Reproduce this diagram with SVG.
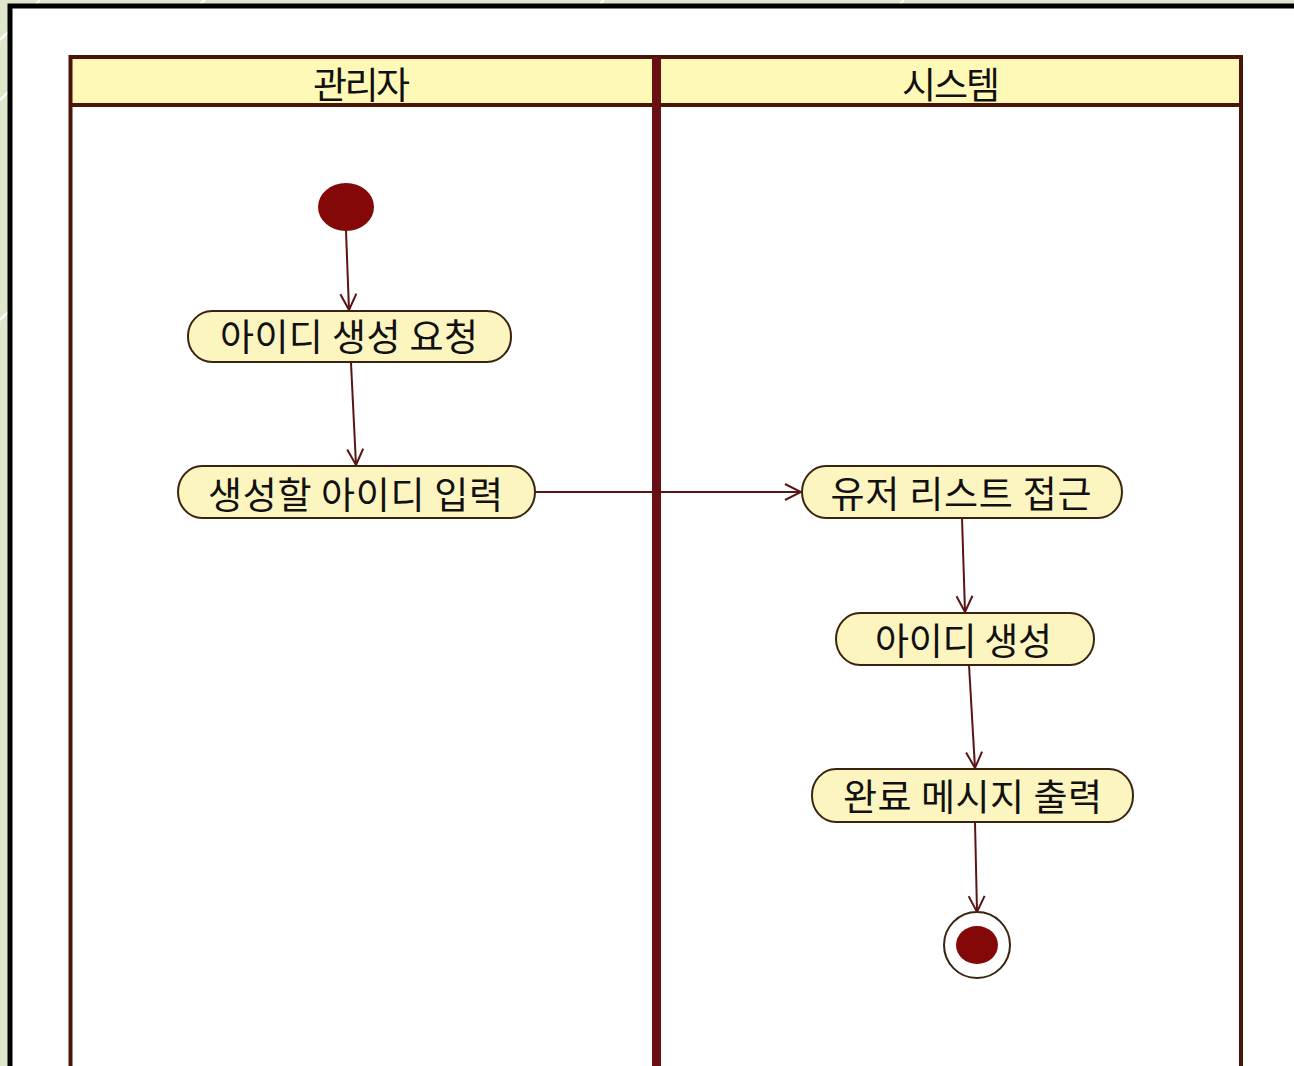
<svg xmlns="http://www.w3.org/2000/svg" width="1294" height="1066" viewBox="0 0 1294 1066">
<defs>
<style>
.lab{font-family:"Noto Sans CJK KR","Liberation Sans",sans-serif;font-size:37px;fill:#111;text-anchor:middle;dominant-baseline:central}
.act{fill:#fdf5c0;stroke:#3a2410;stroke-width:2}
.con{stroke:#5a1414;stroke-width:2;fill:none;marker-end:url(#arr)}
.lane{fill:none;stroke:#4a1508;stroke-width:4}
</style>
<marker id="arr" viewBox="0 0 18 18" refX="17" refY="9" markerWidth="18" markerHeight="18" markerUnits="userSpaceOnUse" orient="auto">
<path d="M1,1 L17,9 L1,17" fill="none" stroke="#5a1414" stroke-width="2"/>
</marker>
</defs>
<g id="background">
<rect x="0" y="0" width="1294" height="1066" fill="#dfe7cb"/>
<path d="M0,40 L40,0 M0,100 L30,70 M0,320 L25,295 M200,4 L205,0 M600,4 L604,0 M900,4 L904,0" stroke="#fff" stroke-width="2"/>
<rect x="10" y="6" width="1300" height="1100" fill="#fff" stroke="#000" stroke-width="5"/>
</g>
<g id="swimlanes">
<rect x="70.5" y="57" width="1170.5" height="48" fill="#fff9b8"/>
<path class="lane" d="M70.5,1070 V57 H1241 V1070 M70.5,105 H1241"/>
<rect x="652" y="57" width="9" height="1013" fill="#6a0f14"/>
<text class="lab" x="361.5" y="82.5" textLength="97" lengthAdjust="spacing">관리자</text>
<text class="lab" x="951" y="82.5" textLength="98" lengthAdjust="spacing">시스템</text>
</g>
<g id="connectors">
<path class="con" d="M346,231 L349,310"/>
<path class="con" d="M351,363 L356,465"/>
<path class="con" d="M535,492 L801,492"/>
<path class="con" d="M962,518 L965,612"/>
<path class="con" d="M969,665 L975,768"/>
<path class="con" d="M975,822 L977,912"/>
</g>
<g id="start">
<ellipse cx="346" cy="207" rx="28" ry="24" fill="#850808"/>
</g>
<g id="a1">
<rect class="act" x="188" y="311" width="323" height="51" rx="24" ry="25"/>
<text class="lab" x="349" y="335" textLength="258" lengthAdjust="spacing">아이디 생성 요청</text>
</g>
<g id="a2">
<rect class="act" x="178" y="466" width="357" height="52" rx="24" ry="26"/>
<text class="lab" x="355.5" y="493" textLength="295" lengthAdjust="spacing">생성할 아이디 입력</text>
</g>
<g id="a3">
<rect class="act" x="802" y="466" width="320" height="52" rx="24" ry="26"/>
<text class="lab" x="961" y="492" textLength="261" lengthAdjust="spacing">유저 리스트 접근</text>
</g>
<g id="a4">
<rect class="act" x="836" y="613" width="258" height="52" rx="24" ry="26"/>
<text class="lab" x="963.5" y="639" textLength="177" lengthAdjust="spacing">아이디 생성</text>
</g>
<g id="a5">
<rect class="act" x="812" y="769" width="321" height="53" rx="24" ry="26"/>
<text class="lab" x="972.5" y="795" textLength="259" lengthAdjust="spacing">완료 메시지 출력</text>
</g>
<g id="end">
<circle cx="977" cy="945" r="33" fill="#fff" stroke="#3a2410" stroke-width="2"/>
<ellipse cx="977" cy="945" rx="21" ry="19" fill="#850808"/>
</g>
</svg>
